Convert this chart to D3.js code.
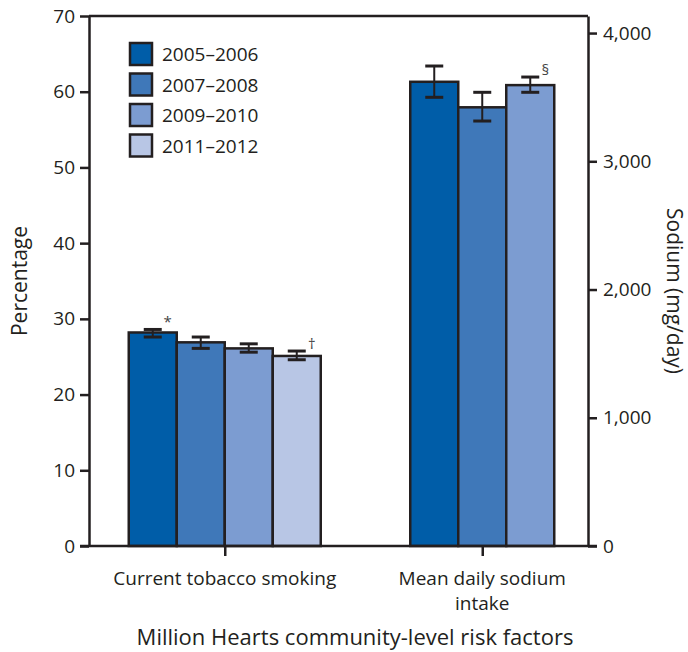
<!DOCTYPE html>
<html>
<head>
<meta charset="utf-8">
<script src="https://cdn.jsdelivr.net/npm/d3@7"></script>
<style>
  body { margin: 0; background: #fff; }
  text { font-family: "Open Sans", "Noto Sans", sans-serif; fill: #231f20; }
</style>
</head>
<body>
<div id="chart"></div>
<script>
const periods = ["2005–2006", "2007–2008", "2009–2010", "2011–2012"],
    colors = ["#005da8", "#3f78b9", "#7c9cd1", "#b8c6e5"],
    categories = ["Current tobacco smoking", "Mean daily sodium intake"];

// tobacco: percentage (left axis)
const smokingValues = [28.2, 26.9, 26.1, 25.1],
    smokingLow = [27.6, 26.1, 25.6, 24.6],
    smokingHigh = [28.6, 27.6, 26.7, 25.75],
    smokingMarks = ["*", "", "", "†"];

// sodium: mg/day (right axis), no 2011–2012 value
const sodiumValues = [3620, 3421, 3594],
    sodiumLow = [3499, 3314, 3538],
    sodiumHigh = [3743, 3538, 3657],
    sodiumMarks = ["", "", "§"];

const leftTicks = [0, 10, 20, 30, 40, 50, 60, 70],
    rightTicks = [0, 1000, 2000, 3000, 4000];

const W = 688, H = 652,
    margin = { top: 16, right: 100, bottom: 106, left: 89 },
    width = W - margin.left - margin.right,
    height = H - margin.top - margin.bottom,
    barWidth = 48,
    ink = "#231f20";

const svg = d3.select("#chart").append("svg")
    .attr("width", W)
    .attr("height", H)
  .append("g")
    .attr("transform", "translate(" + margin.left + "," + margin.top + ")");

const x = d3.scalePoint().domain(categories).range([7, width + 23]).padding(0.5);
const y = d3.scaleLinear().domain([0, 70]).range([height, 0]);
const y2 = d3.scaleLinear().domain([0, 4133]).range([height, 0]);

const groups = [
    { cat: categories[0], scale: y, vals: smokingValues, lo: smokingLow, hi: smokingHigh, marks: smokingMarks },
    { cat: categories[1], scale: y2, vals: sodiumValues, lo: sodiumLow, hi: sodiumHigh, marks: sodiumMarks }
];

// bars + error bars
groups.forEach(function (g) {
    const inner = d3.scaleBand()
        .domain(d3.range(g.vals.length))
        .range([x(g.cat) - g.vals.length * barWidth / 2, x(g.cat) + g.vals.length * barWidth / 2]);
    const bw = inner.bandwidth();
    const gg = svg.append("g");

    gg.selectAll("rect")
        .data(g.vals)
        .enter().append("rect")
        .attr("x", (d, i) => inner(i))
        .attr("y", d => g.scale(d))
        .attr("width", bw)
        .attr("height", d => height - g.scale(d))
        .style("fill", (d, i) => colors[i])
        .style("stroke", ink)
        .style("stroke-width", 2.5);

    const err = gg.selectAll(".err")
        .data(g.vals)
        .enter().append("g")
        .attr("class", "err")
        .style("stroke", ink)
        .style("stroke-width", 3);
    err.append("line")
        .attr("x1", (d, i) => inner(i) + bw / 2)
        .attr("x2", (d, i) => inner(i) + bw / 2)
        .attr("y1", (d, i) => g.scale(g.lo[i]))
        .attr("y2", (d, i) => g.scale(g.hi[i]))
        .style("stroke-width", 2);
    [g.lo, g.hi].forEach(function (arr) {
        err.append("line")
            .attr("x1", (d, i) => inner(i) + bw / 2 - 9)
            .attr("x2", (d, i) => inner(i) + bw / 2 + 9)
            .attr("y1", (d, i) => g.scale(arr[i]))
            .attr("y2", (d, i) => g.scale(arr[i]));
    });

    gg.selectAll(".mark")
        .data(g.marks)
        .enter().append("text")
        .attr("class", "mark")
        .attr("x", (d, i) => inner(i) + bw / 2 + 15)
        .attr("y", (d, i) => g.scale(g.hi[i]) - 2)
        .style("text-anchor", "middle")
        .style("font-size", "15px")
        .style("fill", "#444")
        .text(d => d);
});

// frame: top line
svg.append("line")
    .attr("x1", 0).attr("x2", width)
    .attr("y1", 0).attr("y2", 0)
    .style("stroke", ink).style("stroke-width", 2.5);

// left axis
const yAxis = svg.append("g")
    .call(d3.axisLeft(y).tickValues(leftTicks).tickSize(9).tickPadding(5).tickSizeOuter(0));
// right axis
const y2Axis = svg.append("g")
    .attr("transform", "translate(" + width + ",0)")
    .call(d3.axisRight(y2).tickValues(rightTicks).tickSize(9).tickPadding(6).tickSizeOuter(0)
        .tickFormat(d3.format(",")));
// bottom axis
const xAxis = svg.append("g")
    .attr("transform", "translate(0," + height + ")")
    .call(d3.axisBottom(x).tickSize(10).tickSizeOuter(0).tickFormat(""));

[yAxis, y2Axis, xAxis].forEach(function (a) {
    a.selectAll(".domain").style("stroke", ink).style("stroke-width", 2.5);
    a.selectAll(".tick line").style("stroke", ink).style("stroke-width", 2.5);
    a.selectAll(".tick text").style("font-size", "19px").style("fill", ink)
        .style("font-family", "'Open Sans', sans-serif");
});
xAxis.select(".domain").attr("d", "M-9,0H" + (width + 9));

// category labels
const catLines = [["Current tobacco smoking"], ["Mean daily sodium", "intake"]];
catLines.forEach(function (lines, k) {
    lines.forEach(function (t, j) {
        svg.append("text")
            .attr("x", x(categories[k]))
            .attr("y", height + 39 + j * 25)
            .style("text-anchor", "middle")
            .style("font-size", "19px")
            .text(t);
    });
});

// axis titles
svg.append("text")
    .attr("transform", "translate(" + (-62) + "," + (height / 2) + ") rotate(-90)")
    .style("text-anchor", "middle")
    .style("font-size", "21px")
    .text("Percentage");

svg.append("text")
    .attr("transform", "translate(" + (width + 79) + "," + (height / 2 + 10) + ") rotate(90)")
    .style("text-anchor", "middle")
    .style("font-size", "21px")
    .text("Sodium (mg/day)");

svg.append("text")
    .attr("x", 266)
    .attr("y", height + 99)
    .style("text-anchor", "middle")
    .style("font-size", "22px")
    .text("Million Hearts community-level risk factors");

// legend
const legend = svg.selectAll(".legend")
    .data(periods)
    .enter().append("g")
    .attr("class", "legend")
    .attr("transform", (d, i) => "translate(41," + (27 + i * 30.5) + ")");
legend.append("rect")
    .attr("width", 22)
    .attr("height", 22)
    .style("fill", (d, i) => colors[i])
    .style("stroke", ink)
    .style("stroke-width", 2.5);
legend.append("text")
    .attr("x", 32)
    .attr("y", 18)
    .style("font-size", "19px")
    .text(d => d);
</script>
</body>
</html>
